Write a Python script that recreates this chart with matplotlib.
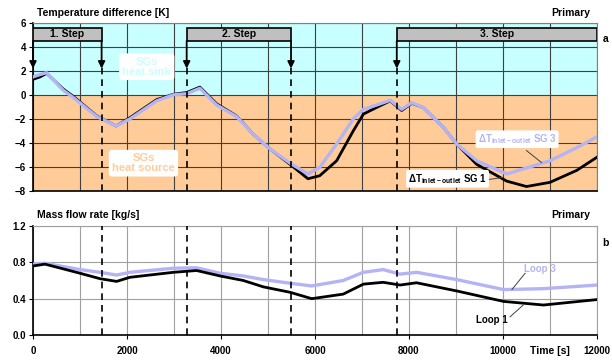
import matplotlib
matplotlib.use("Agg")
import matplotlib.pyplot as plt
from matplotlib.patches import Rectangle

plt.rcParams['font.family'] = ['Liberation Sans', 'DejaVu Sans']
plt.rcParams['font.weight'] = 'bold'
plt.rcParams['mathtext.fontset'] = 'custom'
plt.rcParams['mathtext.rm'] = 'Liberation Sans:bold'
plt.rcParams['mathtext.it'] = 'Liberation Sans:bold'
plt.rcParams['mathtext.bf'] = 'Liberation Sans:bold'

# ---- data: temperature difference ----
t_temp = [0, 150, 290, 640, 850, 1355, 1766, 2064, 2630, 2980, 3270, 3550, 3910,
          4330, 4690, 5040, 5470, 5850, 6100, 6460, 6815, 7030, 7310, 7600, 7845,
          8060, 8300, 8730, 9015, 9440, 10080, 10500, 11000, 11570, 12000]
dT_sg1 = [1.3, 1.5, 1.8, 0.5, -0.1, -1.75, -2.6, -1.9, -0.4, 0.05, 0.2, 0.65, -0.75,
          -1.75, -3.3, -4.5, -5.8, -7.0, -6.75, -5.5, -3.0, -1.6, -1.05, -0.5, -1.3,
          -0.7, -1.05, -2.7, -4.1, -5.8, -7.2, -7.65, -7.3, -6.3, -5.2]
dT_sg3 = [1.5, 1.7, 1.85, 0.4, -0.2, -1.8, -2.6, -2.0, -0.5, 0.0, 0.1, 0.55, -0.85,
          -1.8, -3.3, -4.5, -5.7, -6.6, -6.05, -4.1, -2.0, -1.2, -0.85, -0.45, -1.2,
          -0.65, -1.05, -2.7, -4.1, -5.5, -6.6, -6.1, -5.5, -4.4, -3.5]

# ---- data: mass flow rate ----
t_flow = [0, 255, 1000, 1425, 1780, 2060, 2985, 3480, 3980, 4475, 4900, 5470, 5930,
          6600, 7030, 7450, 7810, 8160, 9015, 10010, 10860, 12000]
loop1 = [0.76, 0.78, 0.68, 0.62, 0.59, 0.635, 0.69, 0.71, 0.65, 0.60, 0.53, 0.47, 0.40,
         0.45, 0.56, 0.58, 0.55, 0.575, 0.485, 0.37, 0.33, 0.39]
loop3 = [0.78, 0.79, 0.72, 0.69, 0.66, 0.69, 0.735, 0.74, 0.68, 0.65, 0.61, 0.57, 0.54,
         0.60, 0.69, 0.72, 0.67, 0.69, 0.61, 0.50, 0.51, 0.55]

# ---- steps ----
step_labels = ['1. Step', '2. Step', '3. Step']
step_start = [0, 3270, 7740]
step_end = [1460, 5490, 12000]
arrow_times = [0, 1460, 3270, 5490, 7740]
dashed_times = [1460, 3270, 5490, 7740]

x_ticks = [0, 2000, 4000, 6000, 8000, 10000, 12000]
x_ticklabels = ['0', '2000', '4000', '6000', '8000', '10000', '12000']

BLACK = '#000000'
LAV = '#B4B4F5'
FS = 7

fig = plt.figure(figsize=(6.12, 3.61), dpi=100)
ax1 = fig.add_axes([0.0539, 0.4717, 0.9216, 0.4645])
ax2 = fig.add_axes([0.0539, 0.072, 0.9216, 0.302])

# ---------------- top panel ----------------
ax1.axhspan(0, 6, color='#C8FFFF', zorder=0.1, lw=0)
ax1.axhspan(-8, 0, color='#FFCC99', zorder=0.1, lw=0)
ax1.set_xlim(0, 12000)
ax1.set_ylim(-8, 6)
ax1.set_yticks(range(-8, 7, 2))
ax1.set_xticks(range(0, 12001, 1000))
ax1.set_xticklabels([])
ax1.tick_params(axis='x', length=0)
ax1.tick_params(axis='y', labelsize=FS, length=3, direction='out', pad=2)
ax1.grid(True, color='#404040', lw=0.8)
ax1.set_axisbelow(True)
for s in ['top', 'right']:
    ax1.spines[s].set_color('#808080')
ax1.spines['left'].set_linewidth(1.2)
ax1.spines['bottom'].set_linewidth(1.2)

ax1.plot(t_temp, dT_sg1, color=BLACK, lw=2.0, zorder=3)
ax1.plot(t_temp, dT_sg3, color=LAV, lw=2.4, zorder=4)

for lab, s, e in zip(step_labels, step_start, step_end):
    ax1.add_patch(Rectangle((s, 4.5), e - s, 1.1, facecolor='#C0C0C0',
                            edgecolor='k', lw=1.2, zorder=5))
    ax1.text((s + e) / 2, 5.05, lab, ha='center', va='center', fontsize=FS + 0.5,
             fontweight='bold', zorder=6)
for t in arrow_times:
    ax1.annotate('', xy=(t, 2.2), xytext=(t, 4.5),
                 arrowprops=dict(arrowstyle='-|>', color='k', lw=1.3,
                                 mutation_scale=10, shrinkA=0, shrinkB=0),
                 zorder=6, annotation_clip=False)
for t in dashed_times:
    ax1.plot([t, t], [-8, 2.3], color='k', lw=1.2, ls=(0, (4, 3)), zorder=5)

bb = dict(boxstyle='round,pad=0.3', fc='white', ec='none')
ax1.text(2420, 2.35, 'SGs\nheat sink', ha='center', va='center', fontsize=FS + 1,
         color='#C8FFFF', bbox=bb, zorder=7, linespacing=1.0)
ax1.text(2350, -5.7, 'SGs\nheat source', ha='center', va='center', fontsize=FS + 1,
         color='#FFCC99', bbox=bb, zorder=7, linespacing=1.0)

bb2 = dict(boxstyle='round,pad=0.2', fc='white', ec='none')
ax1.plot([10500, 10820], [-4.65, -5.65], color='#404040', lw=0.7, zorder=6)
ax1.text(10300, -3.7, r'$\Delta$T$_{\rm inlet-outlet}$ SG 3', ha='center', va='center',
         fontsize=FS, color=LAV, bbox=bb2, zorder=7)
ax1.plot([9620, 10000], [-7.1, -6.9], color='#404040', lw=0.7, zorder=6)
ax1.text(8820, -7.0, r'$\Delta$T$_{\rm inlet-outlet}$ SG 1', ha='center', va='center',
         fontsize=FS, color='black', bbox=bb2, zorder=7)

# ---------------- bottom panel ----------------
ax2.set_xlim(0, 12000)
ax2.set_ylim(0, 1.2)
ax2.set_yticks([0.0, 0.4, 0.8, 1.2])
ax2.set_yticklabels(['0.0', '0.4', '0.8', '1.2'])
ax2.set_xticks(x_ticks)
ax2.set_xticks(range(0, 12001, 1000), minor=True)
ax2.grid(True, which='major', color='#A0A0A0', lw=0.8)
ax2.grid(True, which='minor', axis='x', color='#A0A0A0', lw=0.8)
ax2.set_axisbelow(True)
ax2.set_xticklabels(x_ticklabels)
ax2.tick_params(axis='both', labelsize=FS, length=3, pad=2)
ax2.tick_params(axis='x', pad=5)
ax2.tick_params(axis='x', which='minor', length=0)
for s in ['top', 'right']:
    ax2.spines[s].set_color('#A0A0A0')
ax2.spines['left'].set_linewidth(1.2)
ax2.spines['bottom'].set_linewidth(1.2)

ax2.plot(t_flow, loop3, color=LAV, lw=2.4, zorder=3)
ax2.plot(t_flow, loop1, color=BLACK, lw=2.0, zorder=4)
for t in dashed_times:
    ax2.axvline(t, color='k', lw=1.2, ls=(0, (4, 3)), zorder=5)

ax2.plot([10470, 10190], [0.68, 0.50], color='#404040', lw=0.7, zorder=6)
ax2.text(10780, 0.73, 'Loop 3', ha='center', va='center', fontsize=FS, color=LAV, zorder=7)
ax2.plot([10150, 10430], [0.20, 0.33], color='#404040', lw=0.7, zorder=6)
ax2.text(9760, 0.16, 'Loop 1', ha='center', va='center', fontsize=FS, color='black', zorder=7)

# ---------------- titles ----------------
fig.text(0.06, 0.965, 'Temperature difference [K]', fontsize=FS + 0.5, fontweight='bold',
         ha='left', va='center')
fig.text(0.965, 0.965, 'Primary', fontsize=FS + 0.5, fontweight='bold', ha='right', va='center')
fig.text(0.06, 0.405, 'Mass flow rate [kg/s]', fontsize=FS + 0.5, fontweight='bold',
         ha='left', va='center')
fig.text(0.965, 0.405, 'Primary', fontsize=FS + 0.5, fontweight='bold', ha='right', va='center')
fig.text(0.99, 0.893, 'a', fontsize=FS + 0.5, fontweight='bold', ha='center', va='center')
fig.text(0.99, 0.327, 'b', fontsize=FS + 0.5, fontweight='bold', ha='center', va='center')
fig.text(0.899, 0.027, 'Time [s]', fontsize=FS + 0.5, fontweight='bold', ha='center', va='center')

fig.savefig('out.png', dpi=100)
